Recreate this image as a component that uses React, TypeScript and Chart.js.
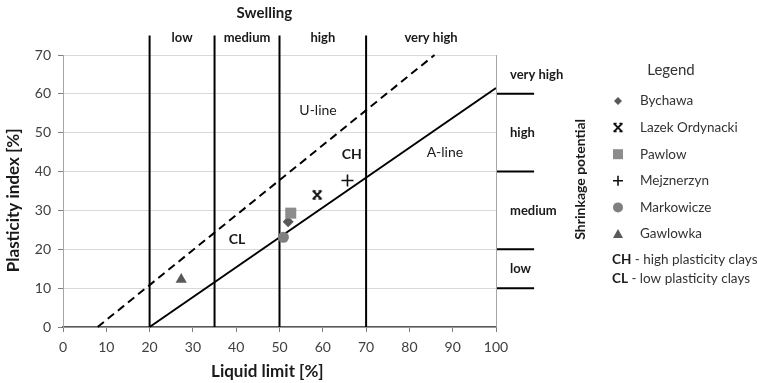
import { useEffect, useRef } from "react";
import { Chart, registerables } from "chart.js";

Chart.register(...registerables);

const FONT = "Lato";

const xTickValues = [0, 10, 20, 30, 40, 50, 60, 70, 80, 90, 100];
const yTickValues = [0, 10, 20, 30, 40, 50, 60, 70];
const xTitle = "Liquid limit [%]";
const yTitle = "Plasticity index [%]";

const sampleNames = ["Bychawa", "Lazek Ordynacki", "Pawlow", "Mejznerzyn", "Markowicze", "Gawlowka"];
const liquidLimit = [52.0, 58.7, 52.6, 65.7, 50.9, 27.3];
const plasticityIndex = [27.1, 34.0, 29.3, 37.7, 23.1, 12.2];
const sampleColors = ["#595959", "#111111", "#8c8c8c", "#111111", "#808080", "#595959"];

const aLineX = [20, 100];
const aLineY = [0, 61.5];
const uLineX = [8, 85.8];
const uLineY = [0, 70];

const swellingBounds = [20, 35, 50, 70];
const swellingTop = 75;
const swellingLabels = ["low", "medium", "high", "very high"];
const swellingTitle = "Swelling";

const shrinkBounds = [10, 20, 40, 60];
const shrinkEnd = 108.8;
const shrinkLabels = ["low", "medium", "high", "very high"];
const shrinkLabelY = [15, 30, 50, 65];
const shrinkTitle = "Shrinkage potential";

const plotLabels = ["U-line", "A-line", "CH", "CL"];
const plotLabelX = [58.9, 88.2, 66.7, 40.2];
const plotLabelY = [55.6, 44.8, 44.3, 22.4];
const plotLabelBold = [false, false, true, true];

const legendTitle = "Legend";
const noteCodes = ["CH", "CL"];
const noteTexts = [" - high plasticity clays", " - low plasticity clays"];

function drawAsterisk(g: CanvasRenderingContext2D, x: number, y: number, s: number, color: string) {
  g.save();
  g.strokeStyle = color;
  g.lineWidth = 2;
  g.lineCap = "butt";
  g.beginPath();
  g.moveTo(x - s, y - s);
  g.lineTo(x + s, y + s);
  g.moveTo(x + s, y - s);
  g.lineTo(x - s, y + s);
  g.stroke();
  g.lineWidth = 1.5;
  g.beginPath();
  g.moveTo(x - s - 0.5, y - s);
  g.lineTo(x - s * 0.35, y - s);
  g.moveTo(x + s * 0.35, y - s);
  g.lineTo(x + s + 0.5, y - s);
  g.moveTo(x - s - 0.5, y + s);
  g.lineTo(x - s * 0.35, y + s);
  g.moveTo(x + s * 0.35, y + s);
  g.lineTo(x + s + 0.5, y + s);
  g.stroke();
  g.restore();
}

function makeAsterisk(color: string) {
  const c = document.createElement("canvas");
  c.width = 12;
  c.height = 12;
  const g = c.getContext("2d")!;
  drawAsterisk(g, 6, 6, 4, color);
  return c;
}

function drawMarker(ctx: CanvasRenderingContext2D, kind: number, x: number, y: number, color: string, s: number) {
  ctx.save();
  ctx.fillStyle = color;
  ctx.strokeStyle = color;
  ctx.beginPath();
  if (kind === 0) {
    ctx.moveTo(x, y - s);
    ctx.lineTo(x + s, y);
    ctx.lineTo(x, y + s);
    ctx.lineTo(x - s, y);
    ctx.closePath();
    ctx.fill();
  } else if (kind === 1) {
    drawAsterisk(ctx, x, y, s, color);
  } else if (kind === 2) {
    ctx.rect(x - s, y - s, 2 * s, 2 * s);
    ctx.fill();
  } else if (kind === 3) {
    ctx.lineWidth = 1.6;
    ctx.moveTo(x - s, y);
    ctx.lineTo(x + s, y);
    ctx.moveTo(x, y - s);
    ctx.lineTo(x, y + s);
    ctx.stroke();
  } else if (kind === 4) {
    ctx.arc(x, y, s, 0, Math.PI * 2);
    ctx.fill();
  } else {
    ctx.moveTo(x, y - s);
    ctx.lineTo(x + s, y + s * 0.8);
    ctx.lineTo(x - s, y + s * 0.8);
    ctx.closePath();
    ctx.fill();
  }
  ctx.restore();
}

const overlayPlugin = {
  id: "overlay",
  afterDatasetsDraw(chart: any) {
    const { ctx, scales } = chart;
    const x = scales.x;
    const y = scales.y;
    const top = y.getPixelForValue(70);
    ctx.save();
    // right frame
    ctx.strokeStyle = "#a6a6a6";
    ctx.lineWidth = 1;
    ctx.beginPath();
    ctx.moveTo(Math.round(x.getPixelForValue(100)) + 0.5, y.getPixelForValue(0));
    ctx.lineTo(Math.round(x.getPixelForValue(100)) + 0.5, top);
    ctx.stroke();

    ctx.fillStyle = "#1a1a1a";
    ctx.textBaseline = "middle";
    ctx.textAlign = "center";
    // axis titles
    ctx.font = `bold 17px ${FONT}`;
    ctx.fillText(xTitle, x.getPixelForValue(47.2), 372);
    ctx.save();
    ctx.translate(14, y.getPixelForValue(32.6));
    ctx.rotate(-Math.PI / 2);
    ctx.fillText(yTitle, 0, 0);
    ctx.restore();
    // swelling
    ctx.font = `bold 15px ${FONT}`;
    ctx.fillText(swellingTitle, x.getPixelForValue(46.5), top - 42);
    ctx.font = `bold 13px ${FONT}`;
    const bounds = [...swellingBounds, 100];
    swellingLabels.forEach((lab, i) => {
      const cx = (x.getPixelForValue(bounds[i]) + x.getPixelForValue(bounds[i + 1])) / 2;
      ctx.fillText(lab, cx, top - 17);
    });
    // shrinkage labels
    ctx.textAlign = "left";
    const rx = x.getPixelForValue(100) + 14;
    shrinkLabels.forEach((lab, i) => {
      ctx.fillText(lab, rx, y.getPixelForValue(shrinkLabelY[i]));
    });
    // shrinkage title
    ctx.save();
    ctx.translate(x.getPixelForValue(100) + 84, y.getPixelForValue(38));
    ctx.rotate(-Math.PI / 2);
    ctx.textAlign = "center";
    ctx.font = `bold 14px ${FONT}`;
    ctx.fillText(shrinkTitle, 0, 0);
    ctx.restore();
    // in-plot labels
    ctx.textAlign = "center";
    plotLabels.forEach((lab, i) => {
      ctx.font = `${plotLabelBold[i] ? "bold " : ""}14px ${FONT}`;
      ctx.fillText(lab, x.getPixelForValue(plotLabelX[i]), y.getPixelForValue(plotLabelY[i]));
    });
    // legend
    const lx = 618;
    ctx.font = `15px ${FONT}`;
    ctx.fillStyle = "#333333";
    ctx.fillText(legendTitle, 671, 70);
    ctx.textAlign = "left";
    const sizes = [4, 4, 5, 5, 5, 5];
    sampleNames.forEach((name, i) => {
      const ly = 101 + i * 26.6;
      drawMarker(ctx, i, lx, ly, sampleColors[i], sizes[i]);
      ctx.fillStyle = "#333333";
      ctx.font = `13.5px ${FONT}`;
      ctx.fillText(name, 640, ly);
    });
    noteCodes.forEach((code, i) => {
      const ny = 260 + i * 19;
      ctx.font = `bold 13.5px ${FONT}`;
      ctx.fillStyle = "#1a1a1a";
      ctx.fillText(code, 612, ny);
      const w = ctx.measureText(code).width;
      ctx.font = `13.5px ${FONT}`;
      ctx.fillStyle = "#333333";
      ctx.fillText(noteTexts[i], 612 + w, ny);
    });
    ctx.restore();
  },
};

export default function App() {
  const ref = useRef<HTMLCanvasElement>(null);
  useEffect(() => {
    const canvas = ref.current!;
    const pointStyles: any[] = ["rectRot", makeAsterisk("#111111"), "rect", "cross", "circle", "triangle"];
    const radii = [5.5, 6, 7.8, 6, 5.5, 6.5];
    const sampleSets = sampleNames.map((name, i) => ({
      type: "scatter" as const,
      label: name,
      data: [{ x: liquidLimit[i], y: plasticityIndex[i] }],
      pointStyle: pointStyles[i],
      pointRadius: radii[i],
      backgroundColor: sampleColors[i],
      borderColor: sampleColors[i],
      borderWidth: i === 3 ? 1.6 : 0,
      order: i === 2 ? 0 : 1,
    }));
    const lineSet = (label: string, pts: { x: number; y: number }[], extra: any = {}) => ({
      type: "line" as const,
      label,
      data: pts,
      showLine: true,
      pointRadius: 0,
      borderColor: "#000000",
      borderWidth: 2,
      fill: false,
      tension: 0,
      clip: false,
      order: 5,
      ...extra,
    });
    const datasets: any[] = [
      ...sampleSets,
      lineSet("A-line", aLineX.map((v, i) => ({ x: v, y: aLineY[i] }))),
      lineSet("U-line", uLineX.map((v, i) => ({ x: v, y: uLineY[i] })), { borderDash: [8, 5] }),
      ...swellingBounds.map((b) => lineSet(`swell-${b}`, [{ x: b, y: 0 }, { x: b, y: swellingTop }])),
      ...shrinkBounds.map((b) => lineSet(`shrink-${b}`, [{ x: 100, y: b }, { x: shrinkEnd, y: b }])),
    ];
    const chart = new Chart(canvas, {
      type: "scatter",
      data: { datasets },
      plugins: [overlayPlugin],
      options: {
        animation: false,
        responsive: false,
        layout: { padding: { left: 0, top: 55, right: 263, bottom: 0 } },
        plugins: { legend: { display: false }, tooltip: { enabled: false } },
        scales: {
          x: {
            type: "linear",
            min: 0,
            max: 100,
            afterBuildTicks: (s: any) => {
              s.ticks = xTickValues.map((v) => ({ value: v }));
            },
            afterFit: (s: any) => {
              s.height = 56;
            },
            ticks: { color: "#404040", padding: 7, font: { family: FONT, size: 14 } },
            grid: { drawOnChartArea: false, drawTicks: true, tickLength: 5, color: "#808080" },
            border: { color: "#595959", width: 1.5 },
            title: { display: false },
          },
          y: {
            type: "linear",
            min: 0,
            max: 70,
            afterBuildTicks: (s: any) => {
              s.ticks = yTickValues.map((v) => ({ value: v }));
            },
            afterFit: (s: any) => {
              s.width = 63;
            },
            ticks: { color: "#404040", padding: 7, font: { family: FONT, size: 14 } },
            grid: { color: "#d9d9d9", tickLength: 5, tickColor: "#808080" },
            border: { color: "#a6a6a6", width: 1 },
            title: { display: false },
          },
        },
      } as any,
    });
    return () => chart.destroy();
  }, []);
  return (
    <div style={{ position: "fixed", left: 0, top: 0, width: 759, height: 383, background: "#fff" }}>
      <canvas ref={ref} width={759} height={383} style={{ width: 759, height: 383 }} />
    </div>
  );
}
